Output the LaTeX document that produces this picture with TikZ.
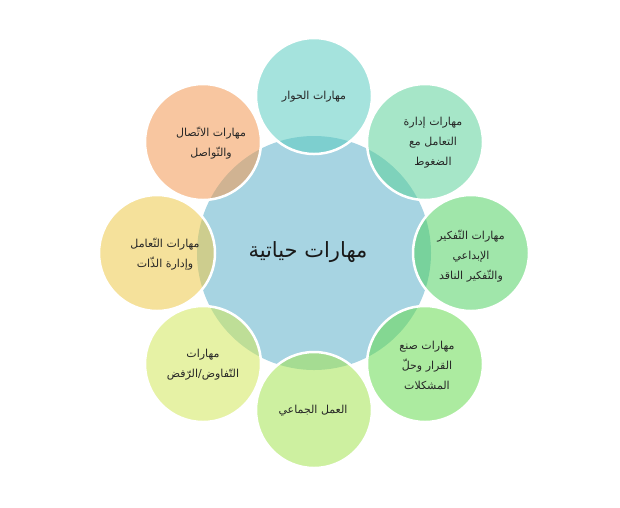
\documentclass[tikz,border=0pt]{standalone}
\usepackage{fontspec}
\newfontfamily\arabicfont[Script=Arabic]{DejaVu Sans}
\TeXXeTstate=1

% Circle colours (drawn half transparent)
\definecolor{hubblue}{RGB}{167,212,226}
\definecolor{dialoguecol}{RGB}{91,204,193}
\definecolor{stresscol}{RGB}{93,210,155}
\definecolor{thinkingcol}{RGB}{82,210,100}
\definecolor{decisioncol}{RGB}{104,219,82}
\definecolor{teamworkcol}{RGB}{164,228,82}
\definecolor{negotiationcol}{RGB}{210,231,91}
\definecolor{selfmgmtcol}{RGB}{237,200,73}
\definecolor{communicationcol}{RGB}{242,152,82}

\tikzset{
  skill/.style={draw=white, line width=2.5pt, fill opacity=0.55},
  skilltext/.style={font=\arabicfont\fontsize{11}{20}\selectfont, align=center, text=black!85},
  titletext/.style={font=\arabicfont\fontsize{21}{24}\selectfont, text=black!90}
}

\begin{document}
\begin{tikzpicture}[x=1pt,y=-1pt]
        % Page size
        \useasboundingbox (0,0) rectangle (620,507);

        % Hub circle
        \filldraw[fill=hubblue, draw=none] (314,253) circle (117pt);

        % Skill circles (white rim)
        \filldraw[skill, fill=dialoguecol] (314,96) circle (58pt);
        \filldraw[skill, fill=stresscol] (425,142) circle (58pt);
        \filldraw[skill, fill=thinkingcol] (471,253) circle (58pt);
        \filldraw[skill, fill=decisioncol] (425,364) circle (58pt);
        \filldraw[skill, fill=teamworkcol] (314,410) circle (58pt);
        \filldraw[skill, fill=negotiationcol] (203,364) circle (58pt);
        \filldraw[skill, fill=selfmgmtcol] (157,253) circle (58pt);
        \filldraw[skill, fill=communicationcol] (203,142) circle (58pt);

        % Labels
        \node[titletext] (title) at (308,252) {\beginR مهارات حياتية\endR};
        \node[skilltext] (dialogue) at (314,97) {\beginR مهارات الحوار\endR};
        \node[skilltext] (stress) at (433,143) {\beginR مهارات إدارة\endR\\\beginR التعامل مع\endR\\\beginR الضغوط\endR};
        \node[skilltext] (thinking) at (471,256) {\beginR مهارات التّفكير\endR\\\beginR الإبداعي\endR\\\beginR والتّفكير الناقد\endR};
        \node[skilltext] (decision) at (427,365) {\beginR مهارات صنع\endR\\\beginR القرار وحلّ\endR\\\beginR المشكلات\endR};
        \node[skilltext] (teamwork) at (313,411) {\beginR العمل الجماعي\endR};
        \node[skilltext] (negotiation) at (203,365) {\beginR مهارات\endR\\\beginR التّفاوض/الرّفض\endR};
        \node[skilltext] (selfmgmt) at (165,254) {\beginR مهارات التّعامل\endR\\\beginR وإدارة الذّات\endR};
        \node[skilltext] (communication) at (211,143) {\beginR مهارات الاتّصال\endR\\\beginR والتّواصل\endR};
\end{tikzpicture}
\end{document}
